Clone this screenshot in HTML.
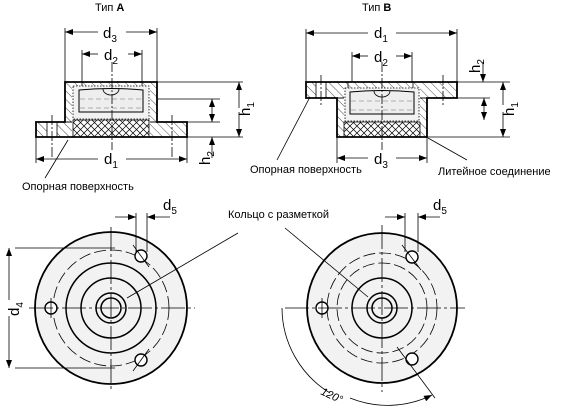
<!DOCTYPE html>
<html><head><meta charset="utf-8"><style>
html,body{margin:0;padding:0;background:#fff}
svg{display:block}
text{font-family:"Liberation Sans",sans-serif;fill:#000}
</style></head><body>
<svg width="570" height="411" viewBox="0 0 570 411" xmlns="http://www.w3.org/2000/svg">
<defs>
<pattern id="hatch" patternUnits="userSpaceOnUse" width="6" height="6" patternTransform="rotate(-45)"><line x1="0" y1="0" x2="0" y2="6" stroke="#000" stroke-width="0.7"/></pattern>
<pattern id="xhatch" patternUnits="userSpaceOnUse" width="7" height="7"><path d="M0 0L7 7M7 0L0 7" stroke="#000" stroke-width="0.7"/></pattern>
<marker id="ar" markerWidth="8" markerHeight="6" refX="8" refY="3" orient="auto" markerUnits="userSpaceOnUse"><path d="M0 0L8 3L0 6z" fill="#000"/></marker>
</defs>
<g stroke="#000" fill="none" stroke-width="0.8">

<g>
<rect x="36" y="122" width="151" height="15" fill="url(#hatch)"/>
<rect x="65" y="82" width="92" height="40" fill="url(#hatch)"/>
<rect x="72" y="86" width="78" height="51" fill="#fff" stroke="none"/>
<rect x="73" y="120" width="76" height="17" fill="url(#xhatch)"/>
<rect x="73" y="86" width="76" height="33" fill="#f2f2f2" stroke-dasharray="1.5 1.5"/>
<path d="M79 90Q111 87 143 90L143 112L79 112Z" fill="#eee" stroke-width="1"/>
<path d="M103 89A8 6 0 0 0 119 89" />
<path d="M80 99H142M80 108H142" stroke="#999" stroke-dasharray="5 3"/>
<rect x="47" y="122" width="10" height="15" fill="#fff"/>
<path d="M36 122H65V82H157V122H187V137H36Z" stroke-width="1.8"/>
<path d="M82 82V86M142 82V86" />
<path d="M112 62V150M52 115V158M172 115V158" stroke-dasharray="10 2 2 2"/>
<path d="M65 82V28M157 82V28M82 82V50M142 82V50M36 137V163M187 137V163"/>
<path d="M98 32H65" marker-end="url(#ar)"/><path d="M126 32H157" marker-end="url(#ar)"/>
<path d="M98 54H82" marker-end="url(#ar)"/><path d="M128 54H142" marker-end="url(#ar)"/>
<path d="M98 159H36" marker-end="url(#ar)"/><path d="M126 159H187" marker-end="url(#ar)"/>
<path d="M157 82H243M187 137H243M187 122H220M157 99H220"/>
<path d="M239 108V82" marker-end="url(#ar)"/><path d="M239 112V137" marker-end="url(#ar)"/>
<path d="M212 112V99" marker-end="url(#ar)"/><path d="M212 112V122" marker-end="url(#ar)"/>
<path d="M212 158V137" marker-end="url(#ar)"/>
<path d="M68 140L45 178"/>
</g>

<g>
<rect x="306" y="82" width="151" height="16" fill="url(#hatch)"/>
<rect x="337" y="98" width="90" height="39" fill="url(#hatch)"/>
<rect x="344" y="88" width="76" height="49" fill="#fff" stroke="none"/>
<rect x="344" y="122" width="76" height="15" fill="url(#xhatch)"/>
<rect x="345" y="88" width="74" height="33" fill="#f2f2f2" stroke-dasharray="1.5 1.5"/>
<path d="M350 92Q382 89 414 92L414 114L350 114Z" fill="#eee" stroke-width="1"/>
<path d="M374 91A8 6 0 0 0 390 91"/>
<path d="M351 101H413M351 110H413" stroke="#999" stroke-dasharray="5 3"/>
<rect x="316" y="82" width="10" height="16" fill="#fff"/>
<path d="M348 82V88M413 82V88"/>
<path d="M306 82H457V98H427V137H337V98H306Z" stroke-width="1.8"/>
<path d="M382 62V150M321 75V105M443 75V105" stroke-dasharray="10 2 2 2"/>
<path d="M306 82V29M457 82V29M352 82V52M412 82V52M337 137V163M427 137V163"/>
<path d="M368 33H306" marker-end="url(#ar)"/><path d="M396 33H457" marker-end="url(#ar)"/>
<path d="M368 56H352" marker-end="url(#ar)"/><path d="M396 56H412" marker-end="url(#ar)"/>
<path d="M368 158H337" marker-end="url(#ar)"/><path d="M396 158H427" marker-end="url(#ar)"/>
<path d="M457 82H510M457 98H490M427 137H510"/>
<path d="M483 62V82" marker-end="url(#ar)"/>
<path d="M503 105V82" marker-end="url(#ar)"/><path d="M503 112V137" marker-end="url(#ar)"/>
<path d="M484 112V98" marker-end="url(#ar)"/><path d="M484 112V120" marker-end="url(#ar)"/>
<path d="M310 97L277 160M428 138L467 160"/>
</g>

<g>
<circle cx="111" cy="308" r="76" fill="#f2f2f2" stroke-width="1.8"/>
<circle cx="111" cy="308" r="58" stroke-dasharray="12 4"/>
<circle cx="111" cy="308" r="45" stroke-width="1.5"/>
<circle cx="111" cy="308" r="30" stroke-width="1.5"/>
<circle cx="111" cy="308" r="15" stroke-width="1.5"/>
<circle cx="111" cy="308" r="10" stroke-width="1.5"/>
<circle cx="141" cy="256" r="6" fill="#fff" stroke-width="1.4"/>
<circle cx="51" cy="308" r="6" fill="#fff" stroke-width="1.4"/>
<circle cx="141" cy="360" r="6" fill="#fff" stroke-width="1.4"/>
<path d="M111 227V390M29 308H195" stroke-dasharray="24 3 3 3"/>
<path d="M133 245L149 267M133 371L149 349M51 298V318"/>
<path d="M15 248H115M15 368H115"/>
<path d="M9 300V248" marker-end="url(#ar)"/><path d="M9 316V368" marker-end="url(#ar)"/>
<path d="M136 252V213M147 252V213"/>
<path d="M115 217H136" marker-end="url(#ar)"/><path d="M170 217H147" marker-end="url(#ar)"/>
<path d="M127 298L238 233"/>
</g>

<g>
<circle cx="382" cy="308" r="75" fill="#f2f2f2" stroke-width="1.8"/>
<circle cx="382" cy="308" r="55" stroke-dasharray="12 4"/>
<circle cx="382" cy="308" r="45" stroke-dasharray="12 4"/>
<circle cx="382" cy="308" r="30" stroke-width="1.5"/>
<circle cx="382" cy="308" r="15" stroke-width="1.5"/>
<circle cx="382" cy="308" r="10" stroke-width="1.5"/>
<circle cx="412" cy="257" r="6" fill="#fff" stroke-width="1.4"/>
<circle cx="322" cy="308" r="6" fill="#fff" stroke-width="1.4"/>
<circle cx="412" cy="359" r="6" fill="#fff" stroke-width="1.4"/>
<path d="M382 225V392M285 308H465" stroke-dasharray="24 3 3 3"/>
<path d="M402 245L421 270M397 347L435 398M322 298V318"/>
<path d="M405 252V213M418 252V213"/>
<path d="M385 217H405" marker-end="url(#ar)"/><path d="M440 217H418" marker-end="url(#ar)"/>
<path d="M368 297L285 228"/>
<path d="M282 308A100 100 0 0 0 330 393"/>
<path d="M350 398A100 100 0 0 0 432 395" marker-end="url(#ar)"/>
</g>
</g>

<g font-size="11">
<text x="95" y="11">Тип <tspan font-weight="bold">A</tspan></text>
<text x="362" y="11">Тип <tspan font-weight="bold">B</tspan></text>
<text x="22" y="190">Опорная поверхность</text>
<text x="250" y="173">Опорная поверхность</text>
<text x="438" y="175">Литейное соединение</text>
<text x="228" y="218">Кольцо с разметкой</text>
<text transform="translate(320,394) rotate(25)" font-style="italic">120°</text>
</g>
<g font-size="15">
<text x="103" y="38">d<tspan font-size="10" dy="4">3</tspan></text>
<text x="104" y="60">d<tspan font-size="10" dy="4">2</tspan></text>
<text x="104" y="164">d<tspan font-size="10" dy="4">1</tspan></text>
<text transform="translate(250,116) rotate(-90)">h<tspan font-size="10" dy="4">1</tspan></text>
<text transform="translate(210,165) rotate(-90)">h<tspan font-size="10" dy="4">2</tspan></text>
<text x="374" y="38">d<tspan font-size="10" dy="4">1</tspan></text>
<text x="374" y="62">d<tspan font-size="10" dy="4">2</tspan></text>
<text x="374" y="164">d<tspan font-size="10" dy="4">3</tspan></text>
<text transform="translate(480,73) rotate(-90)">h<tspan font-size="10" dy="4">2</tspan></text>
<text transform="translate(514,116) rotate(-90)">h<tspan font-size="10" dy="4">1</tspan></text>
<text transform="translate(19,316) rotate(-90)">d<tspan font-size="10" dy="4">4</tspan></text>
<text x="163" y="210">d<tspan font-size="10" dy="4">5</tspan></text>
<text x="433" y="210">d<tspan font-size="10" dy="4">5</tspan></text>
</g>
</svg>
</body></html>
